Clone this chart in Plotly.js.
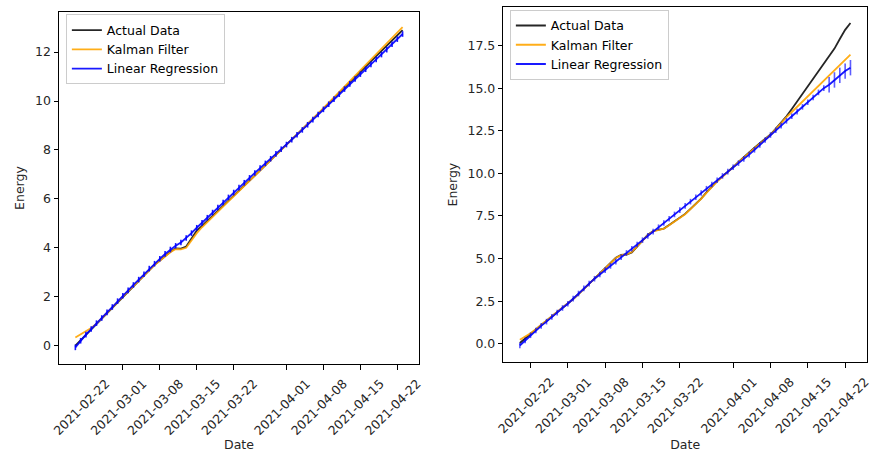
<!DOCTYPE html>
<html>
<head>
<meta charset="utf-8">
<script src="https://cdn.plot.ly/plotly-3.0.1.min.js"></script>
<style>
html,body{margin:0;padding:0;background:#fff;}
#chart{width:872px;height:452px;}
</style>
</head>
<body>
<div id="chart"></div>
<script>
// ---- data ----
const dates = [
 "2021-02-20","2021-02-21","2021-02-22","2021-02-23","2021-02-24","2021-02-25","2021-02-26","2021-02-27","2021-02-28",
 "2021-03-01","2021-03-02","2021-03-03","2021-03-04","2021-03-05","2021-03-06","2021-03-07","2021-03-08","2021-03-09","2021-03-10",
 "2021-03-11","2021-03-12","2021-03-13","2021-03-14","2021-03-15","2021-03-16","2021-03-17","2021-03-18","2021-03-19","2021-03-20",
 "2021-03-21","2021-03-22","2021-03-23","2021-03-24","2021-03-25","2021-03-26","2021-03-27","2021-03-28","2021-03-29","2021-03-30","2021-03-31",
 "2021-04-01","2021-04-02","2021-04-03","2021-04-04","2021-04-05","2021-04-06","2021-04-07","2021-04-08","2021-04-09","2021-04-10",
 "2021-04-11","2021-04-12","2021-04-13","2021-04-14","2021-04-15","2021-04-16","2021-04-17","2021-04-18","2021-04-19","2021-04-20",
 "2021-04-21","2021-04-22","2021-04-23"
];

const leftActual = [0.0,0.22,0.45,0.67,0.89,1.12,1.34,1.56,1.79,2.01,2.23,2.45,2.68,2.9,3.12,3.3,3.48,3.66,3.84,3.98,3.97,4.05,4.4,4.7,4.9,5.11,5.31,5.52,5.72,5.93,6.13,6.34,6.54,6.75,6.95,7.16,7.36,7.57,7.77,7.98,8.18,8.4,8.61,8.83,9.04,9.26,9.47,9.69,9.9,10.12,10.33,10.55,10.76,10.98,11.19,11.41,11.62,11.84,12.05,12.27,12.48,12.7,12.9];
const leftKalman = [0.33,0.45,0.58,0.72,0.9,1.11,1.33,1.55,1.78,2.0,2.22,2.44,2.66,2.88,3.1,3.29,3.47,3.65,3.82,3.95,3.94,4.0,4.3,4.6,4.84,5.06,5.27,5.48,5.69,5.9,6.1,6.31,6.52,6.73,6.94,7.15,7.36,7.57,7.78,7.99,8.19,8.41,8.62,8.84,9.05,9.27,9.49,9.71,9.93,10.15,10.37,10.59,10.81,11.03,11.25,11.47,11.69,11.91,12.13,12.36,12.58,12.8,13.02];
const leftLinReg = [-0.07,0.2,0.45,0.68,0.92,1.13,1.36,1.58,1.82,2.04,2.26,2.48,2.7,2.92,3.15,3.35,3.55,3.75,3.93,4.08,4.22,4.4,4.6,4.82,5.02,5.23,5.44,5.65,5.85,6.06,6.26,6.46,6.66,6.86,7.06,7.26,7.45,7.64,7.84,8.03,8.22,8.42,8.62,8.82,9.03,9.24,9.45,9.66,9.87,10.08,10.28,10.49,10.7,10.9,11.1,11.3,11.5,11.7,11.9,12.1,12.32,12.53,12.74];

const rightActual = [0.05,0.32,0.6,0.85,1.1,1.35,1.6,1.85,2.1,2.36,2.63,2.92,3.22,3.52,3.84,4.15,4.47,4.78,5.05,5.22,5.24,5.36,5.72,6.05,6.4,6.62,6.68,6.76,6.97,7.2,7.38,7.62,7.92,8.22,8.52,8.88,9.24,9.55,9.82,10.07,10.37,10.67,10.96,11.22,11.5,11.77,12.02,12.28,12.62,12.98,13.35,13.78,14.22,14.66,15.08,15.5,15.95,16.4,16.85,17.32,17.88,18.42,18.82];
const rightKalman = [0.24,0.42,0.62,0.85,1.1,1.35,1.6,1.85,2.1,2.36,2.63,2.92,3.22,3.52,3.84,4.15,4.47,4.77,5.03,5.2,5.24,5.38,5.72,6.03,6.38,6.6,6.68,6.75,6.95,7.17,7.36,7.6,7.9,8.2,8.5,8.86,9.22,9.53,9.8,10.05,10.35,10.65,10.95,11.2,11.48,11.75,12.0,12.25,12.6,12.97,13.3,13.6,13.9,14.2,14.5,14.8,15.1,15.4,15.7,16.02,16.33,16.65,16.96];
const rightLinReg = [-0.1,0.2,0.5,0.78,1.05,1.3,1.58,1.83,2.1,2.35,2.65,2.95,3.25,3.53,3.82,4.07,4.32,4.57,4.82,5.08,5.33,5.58,5.83,6.08,6.33,6.58,6.84,7.09,7.34,7.59,7.84,8.09,8.34,8.6,8.85,9.1,9.35,9.6,9.85,10.1,10.36,10.6,10.85,11.1,11.38,11.67,11.96,12.25,12.53,12.8,13.08,13.35,13.62,13.9,14.17,14.45,14.75,15.0,15.2,15.48,15.75,16.0,16.2];

const seriesNames = ["Actual Data","Kalman Filter","Linear Regression"];
const xTickVals = ["2021-02-22","2021-03-01","2021-03-08","2021-03-15","2021-03-22","2021-04-01","2021-04-08","2021-04-15","2021-04-22"];
const leftYTicks = [0,2,4,6,8,10,12];
const rightYTicks = [0,2.5,5,7.5,10,12.5,15,17.5];

// ---- styling ----
const FONT = "DejaVu Sans, sans-serif";
const FS = 12.5;
const colors = ["black","orange","blue"];

const rightMarkerSizes = rightLinReg.map((v,i)=> i >= rightLinReg.length-5 ? 11 : 4);

function traces(ys, xa, ya, leg, blueSizes){
  const out = ys.map((y,i)=>({
    x: dates, y: y, type: "scatter", mode: "lines",
    name: seriesNames[i],
    xaxis: xa, yaxis: ya, legend: leg,
    line: {color: colors[i], width: 1.8},
    opacity: i===0 ? 0.85 : 0.9,
    hoverinfo: "skip"
  }));
  // small vertical jags of the regression line (no legend entry)
  out.push({
    x: dates, y: ys[2], type: "scatter", mode: "markers",
    name: seriesNames[2], showlegend: false,
    xaxis: xa, yaxis: ya, legend: leg,
    marker: {symbol: "line-ns", size: blueSizes, color: colors[2], line: {color: colors[2], width: 1.6}},
    opacity: 0.9, hoverinfo: "skip"
  });
  return out;
}

const data = [
  ...traces([leftActual,leftKalman,leftLinReg], "x", "y", "legend", 4),
  ...traces([rightActual,rightKalman,rightLinReg], "x2", "y2", "legend2", rightMarkerSizes)
];

const xRange = ["2021-02-16 21:36","2021-04-26 02:24"];

function xAxis(domain, anchor){
  return {
    domain: domain, anchor: anchor, type: "date", range: xRange,
    tickmode: "array", tickvals: xTickVals, tickformat: "%Y-%m-%d",
    tickangle: -45, ticks: "outside", ticklen: 4.5, tickwidth: 1, tickcolor: "#000",
    ticklabelshift: 20, ticklabelstandoff: 2,
    showline: true, mirror: true, linecolor: "#000", linewidth: 1,
    showgrid: false, zeroline: false,
    tickfont: {family: FONT, size: FS, color: "#262626"},
    title: {text: "Date", font: {family: FONT, size: FS, color: "#262626"}, standoff: 6},
    automargin: false
  };
}
function yAxis(domain, anchor, range, ticks, fmt){
  return {
    domain: domain, anchor: anchor, range: range,
    tickmode: "array", tickvals: ticks, tickformat: fmt,
    ticks: "outside", ticklen: 4.5, tickwidth: 1, tickcolor: "#000",
    showline: true, mirror: true, linecolor: "#000", linewidth: 1,
    showgrid: false, zeroline: false,
    tickfont: {family: FONT, size: FS, color: "#262626"},
    title: {text: "Energy", font: {family: FONT, size: FS, color: "#262626"}, standoff: 7},
    automargin: false
  };
}

const legendStyle = {
  bgcolor: "rgba(255,255,255,0.8)", bordercolor: "#cccccc", borderwidth: 1,
  font: {family: FONT, size: FS, color: "#000"},
  xanchor: "left", yanchor: "top", tracegroupgap: 0
};

const layout = {
  width: 872, height: 452,
  margin: {l: 59, r: 5, t: 7, b: 88},
  paper_bgcolor: "#fff", plot_bgcolor: "#fff",
  showlegend: true,
  xaxis: xAxis([0, 0.4455], "y"),
  yaxis: yAxis([0, 0.986], "x", [-0.75, 13.64], leftYTicks, "d"),
  xaxis2: xAxis([0.5499, 1.0], "y2"),
  yaxis2: yAxis([0.005, 1.0], "x2", [-1.08, 19.76], rightYTicks, ".1f"),
  legend: Object.assign({x: 0.0085, y: 0.979}, legendStyle),
  legend2: Object.assign({x: 0.558, y: 0.992}, legendStyle)
};

Plotly.newPlot("chart", data, layout, {displayModeBar: false, staticPlot: true});
</script>
</body>
</html>
